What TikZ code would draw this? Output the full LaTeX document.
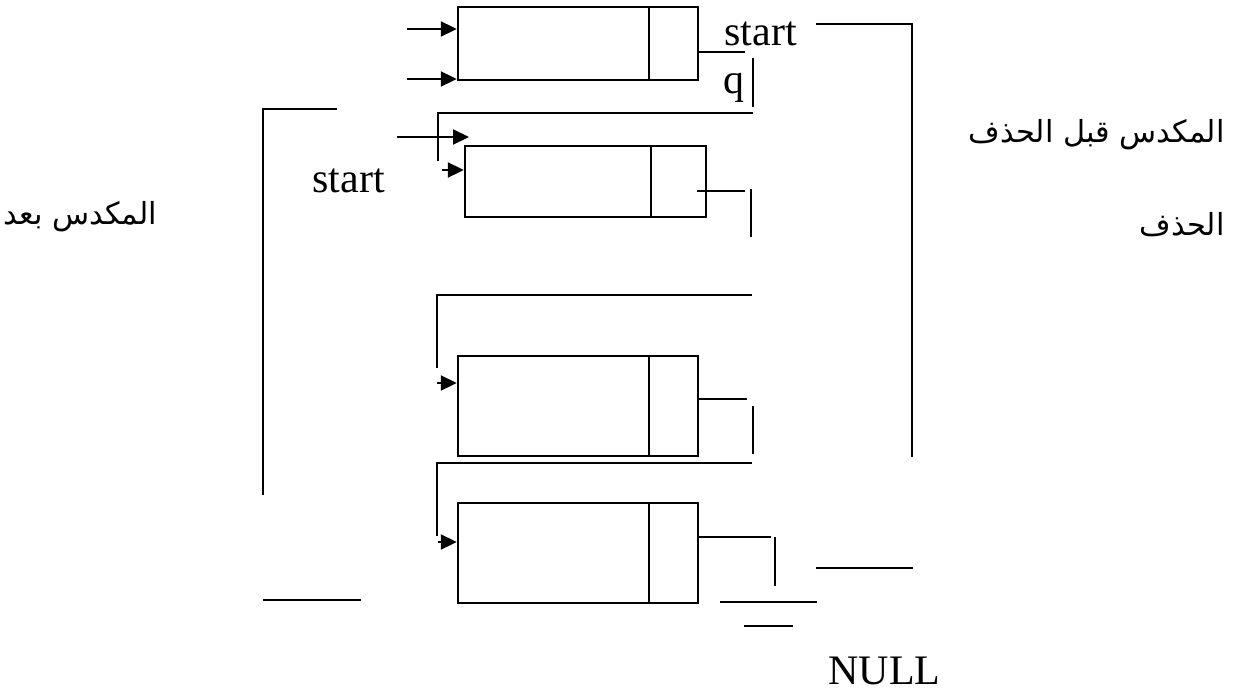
\documentclass[tikz,border=0pt]{standalone}
\usepackage{fontspec}
\setmainfont{Liberation Serif}
\newfontfamily\arabicfont[Script=Arabic]{DejaVu Sans}
\TeXXeTstate=1
\usepackage{tikz}
\usetikzlibrary{arrows.meta,positioning}

\begin{document}
\begin{tikzpicture}[
    x=0.5pt, y=-0.5pt,
    cell/.style={rectangle, draw, line width=1.2pt, inner sep=0pt, minimum width=120pt},
    ptr/.style={-{Triangle[length=8pt, width=7.5pt]}, line width=1pt},
    wire/.style={line width=1pt},
    lbl/.style={inner sep=0pt, font=\fontsize{21pt}{25pt}\selectfont},
    arlbl/.style={inner sep=0pt, font=\arabicfont\fontsize{15.2pt}{19pt}\selectfont}
]
\useasboundingbox (0,0) rectangle (1240,690);

% the four stack nodes
\node[cell, minimum height=36.5pt] (top) at (578,43.5) {};
\node[cell, minimum width=120.5pt, minimum height=35.5pt] (second) at (585.5,181.5) {};
\node[cell, minimum height=50pt] (third) at (578,406) {};
\node[cell, minimum height=50pt] (last) at (578,553) {};
\draw[line width=1.2pt] ([xshift=-25pt]top.north east) -- ([xshift=-25pt]top.south east);
\draw[line width=1.2pt] ([xshift=-28pt]second.north east) -- ([xshift=-28pt]second.south east);
\draw[line width=1.2pt] ([xshift=-25pt]third.north east) -- ([xshift=-25pt]third.south east);
\draw[line width=1.2pt] ([xshift=-25pt]last.north east) -- ([xshift=-25pt]last.south east);

% labels
\node[lbl, anchor=base west] (starttop) at (724,46) {start};
\node[lbl, anchor=base west] (q) at (723,93) {q};
\node[lbl, anchor=base west] (startleft) at (312,192) {start};
\node[lbl, anchor=base west] (null) at (828,684) {NULL};
\node[arlbl, anchor=base east] (before) at (1225,142) {\beginR المكدس قبل الحذف\endR};
\node[arlbl, anchor=base east] (beforetwo) at (1225,235) {\beginR الحذف\endR};
\node[arlbl, anchor=base west] (after) at (3,224) {\beginR المكدس بعد\endR};

% incoming arrows
\coordinate (in1) at (407,29);
\coordinate (in2) at (407,79);
\coordinate (in3) at (397,137);
\coordinate (in3e) at (469,137);
\coordinate (in4) at (442,170);
\coordinate (in5) at (437,383);
\coordinate (in6) at (438,542);
\draw[ptr] (in1) -- (top.west |- in1);
\draw[ptr] (in2) -- (top.west |- in2);
\draw[ptr] (in3) -- (in3e);
\draw[ptr] (in4) -- (second.west |- in4);
\draw[ptr] (in5) -- (third.west |- in5);
\draw[ptr] (in6) -- (last.west |- in6);

% next pointers
\coordinate (nx1) at (745,52);
\coordinate (nx2) at (745,191);
\coordinate (nx3) at (747,399);
\coordinate (nx4) at (771,537);
\draw[wire] (top.east |- nx1) -- (nx1);
\draw[wire] ([xshift=-5pt]second.east |- nx2) -- (nx2);
\draw[wire] (third.east |- nx3) -- (nx3);
\draw[wire] (last.east |- nx4) -- (nx4);

\coordinate (qa) at (753,58);
\coordinate (qb) at (753,107);
\coordinate (v2a) at (751,189);
\coordinate (v2b) at (751,237);
\coordinate (v3a) at (753,406);
\coordinate (v3b) at (753,454);
\coordinate (v4a) at (775,537);
\coordinate (v4b) at (775,586);
\draw[wire] (qa) -- (qb);
\draw[wire] (v2a) -- (v2b);
\draw[wire] (v3a) -- (v3b);
\draw[wire] (v4a) -- (v4b);

% links bent back to the next node
\coordinate (l1a) at (753,113);
\coordinate (l1b) at (438,161);
\coordinate (l2a) at (752,295);
\coordinate (l2b) at (437,368);
\coordinate (l3a) at (752,463);
\coordinate (l3b) at (437,536);
\draw[wire] (l1a) -| (l1b);
\draw[wire] (l2a) -| (l2b);
\draw[wire] (l3a) -| (l3b);

% brackets
\coordinate (rba) at (816,24);
\coordinate (rbb) at (912,457);
\coordinate (lba) at (337,109);
\coordinate (lbb) at (263,495);
\draw[wire] (rba) -| (rbb);
\draw[wire] (lba) -| (lbb);
\coordinate (lfa) at (263,600);
\coordinate (lfb) at (361,600);
\draw[wire] (lfa) -- (lfb);

% ground lines
\coordinate (g1a) at (816,568);
\coordinate (g1b) at (913,568);
\coordinate (g2a) at (720,602);
\coordinate (g2b) at (817,602);
\coordinate (g3a) at (744,626);
\coordinate (g3b) at (793,626);
\draw[wire] (g1a) -- (g1b);
\draw[wire] (g2a) -- (g2b);
\draw[wire] (g3a) -- (g3b);
\end{tikzpicture}
\end{document}
